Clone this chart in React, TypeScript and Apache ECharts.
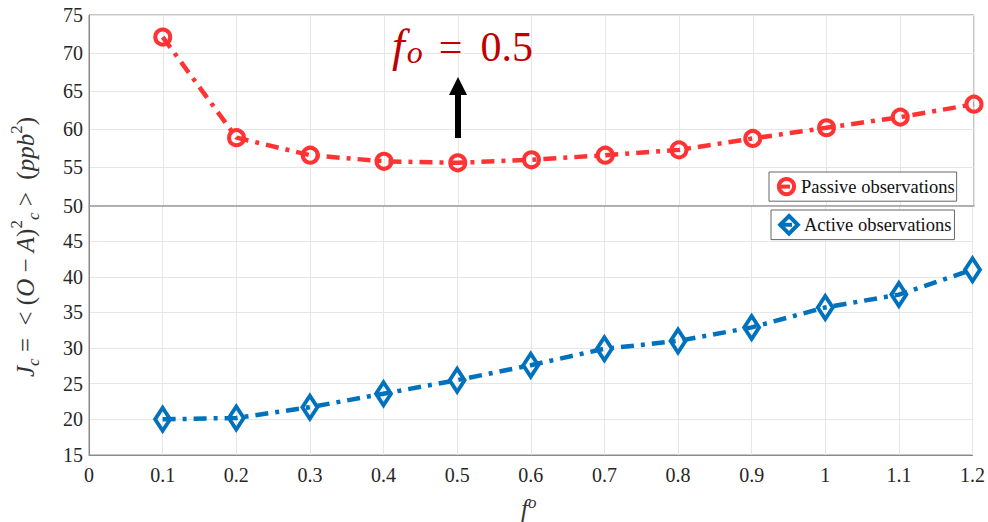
import React, { useEffect, useRef } from "react";
import * as echarts from "echarts";

const fValues = [0.1, 0.2, 0.3, 0.4, 0.5, 0.6, 0.7, 0.8, 0.9, 1.0, 1.1, 1.2];
const passiveJc = [72.1, 58.9, 56.6, 55.8, 55.6, 56.0, 56.6, 57.3, 58.8, 60.2, 61.6, 63.3];
const activeJc = [20.0, 20.2, 21.7, 23.6, 25.5, 27.6, 29.9, 31.0, 32.9, 35.7, 37.5, 41.0];
const topTicks = { min: 50, max: 75, interval: 5 };
const bottomTicks = { min: 15, max: 50, interval: 5 };
const xTicks = { min: 0, max: 1.2, interval: 0.1 };

const FONT = "'Liberation Serif', 'Times New Roman', serif";
const RED = "#ff3333";
const BLUE = "#0072bd";
const TXT = "#262626";

export default function App() {
  const ref = useRef<HTMLDivElement>(null);
  useEffect(() => {
    if (!ref.current) return;
    const chart = echarts.init(ref.current, undefined, { renderer: "svg" });
    const fmtX = (v: number) => String(Math.round(v * 10) / 10);
    const dash: any = [13, 7, 4, 7];
    const gridBase = {
      left: 89,
      width: 885,
      show: true,
      borderColor: "#8a8a8a",
      borderWidth: 1,
      backgroundColor: "#fff",
    };
    const splitLine = { show: true, lineStyle: { color: "#e6e6e6", width: 1 } };
    const legendCommon = {
      orient: "vertical",
      backgroundColor: "#fff",
      borderColor: "#666",
      borderWidth: 1,
      borderRadius: 0,
      itemGap: 4,
      textStyle: { fontFamily: FONT, fontSize: 18.5, color: "#111" },
    };
    const option: any = {
      animation: false,
      backgroundColor: "#fff",
      grid: [
        { ...gridBase, top: 15, height: 190.5 },
        { ...gridBase, top: 205.5, height: 249.5 },
      ],
      xAxis: [
        {
          type: "value",
          gridIndex: 0,
          ...xTicks,
          axisLabel: { show: false },
          axisTick: { show: false },
          axisLine: { show: true, lineStyle: { color: "#9a9a9a", width: 1.5 } },
          splitLine,
        },
        {
          type: "value",
          gridIndex: 1,
          ...xTicks,
          axisLabel: {
            show: true,
            formatter: fmtX,
            fontFamily: FONT,
            fontSize: 20,
            color: TXT,
            margin: 10,
          },
          axisTick: { show: false },
          axisLine: { show: true, lineStyle: { color: "#8a8a8a" } },
          splitLine,
        },
      ],
      yAxis: [
        {
          type: "value",
          gridIndex: 0,
          ...topTicks,
          axisLabel: { fontFamily: FONT, fontSize: 20, color: TXT, margin: 6 },
          axisTick: { show: false },
          axisLine: { show: true, lineStyle: { color: "#8a8a8a" } },
          splitLine,
        },
        {
          type: "value",
          gridIndex: 1,
          ...bottomTicks,
          axisLabel: {
            fontFamily: FONT,
            fontSize: 20,
            color: TXT,
            margin: 6,
            showMaxLabel: false,
          },
          axisTick: { show: false },
          axisLine: { show: true, lineStyle: { color: "#8a8a8a" } },
          splitLine,
        },
      ],
      legend: [
        {
          ...legendCommon,
          data: ["Passive observations"],
          left: 769,
          top: 172,
          padding: [5, 2, 5, 6],
          itemWidth: 19,
          itemHeight: 19,
          itemStyle: { borderWidth: 4 },
          lineStyle: { width: 4 },
        },
        {
          ...legendCommon,
          data: ["Active observations"],
          left: 771,
          top: 210,
          padding: [4, 3, 4, 6],
          itemWidth: 20,
          itemHeight: 22,
          itemStyle: { borderWidth: 4 },
          lineStyle: { width: 4 },
        },
      ],
      series: [
        {
          name: "Passive observations",
          type: "line",
          xAxisIndex: 0,
          yAxisIndex: 0,
          data: fValues.map((x, i) => [x, passiveJc[i]]),
          symbol: "circle",
          symbolSize: 15,
          lineStyle: { color: RED, width: 4.5, type: dash },
          itemStyle: { color: "rgba(255,255,255,0)", borderColor: RED, borderWidth: 4 },
          z: 3,
        },
        {
          name: "Active observations",
          type: "line",
          xAxisIndex: 1,
          yAxisIndex: 1,
          data: fValues.map((x, i) => [x, activeJc[i]]),
          symbol: "diamond",
          symbolSize: [15, 23],
          lineStyle: { color: BLUE, width: 4.5, type: dash },
          itemStyle: { color: "rgba(255,255,255,0)", borderColor: BLUE, borderWidth: 4 },
          z: 3,
        },
      ],
      graphic: [
        {
          type: "text",
          left: 392,
          top: 18,
          z: 100,
          style: {
            text: "{f|f}{o|o}{e|=}{r|0.5}",
            fill: "#c00000",
            rich: {
              f: { fontFamily: FONT, fontStyle: "italic", fontSize: 46, fill: "#c00000", lineHeight: 52, verticalAlign: "bottom", padding: [0, 2, 0, 0] },
              o: { fontFamily: FONT, fontStyle: "italic", fontSize: 32, fill: "#c00000", lineHeight: 52, padding: [18, 0, 0, 0], verticalAlign: "bottom" },
              e: { fontFamily: FONT, fontSize: 42, fill: "#c00000", lineHeight: 52, verticalAlign: "bottom", padding: [0, 18, 0, 16] },
              r: { fontFamily: FONT, fontSize: 42, fill: "#c00000", lineHeight: 52, verticalAlign: "bottom" },
            },
          },
        },
        {
          type: "rect",
          z: 100,
          shape: { x: 455, y: 92, width: 6, height: 46 },
          style: { fill: "#000" },
        },
        {
          type: "polygon",
          z: 100,
          shape: { points: [[449, 95], [467, 95], [458, 77]] },
          style: { fill: "#000" },
        },
        {
          type: "text",
          x: 25,
          y: 247,
          z: 100,
          rotation: Math.PI / 2,
          style: {
            text: "{i|J}{sub|c}{n| =  < (}{i|O}{n| − }{i|A}{n|)}{sup|2}{sub|c}{n| >  (}{i|ppb}{sup|2}{n|)}",
            align: "center",
            verticalAlign: "middle",
            fill: "#333",
            rich: {
              i: { fontFamily: FONT, fontStyle: "italic", fontSize: 25, fill: "#333", lineHeight: 34 },
              n: { fontFamily: FONT, fontSize: 25, fill: "#333", lineHeight: 34 },
              sub: { fontFamily: FONT, fontStyle: "italic", fontSize: 17, fill: "#333", lineHeight: 34, verticalAlign: "bottom" },
              sup: { fontFamily: FONT, fontSize: 17, fill: "#333", lineHeight: 34, verticalAlign: "top" },
            },
          },
        },
        {
          type: "text",
          left: 521,
          top: 494,
          z: 100,
          style: {
            text: "{i|f}{sup|o}",
            fill: "#333",
            rich: {
              i: { fontFamily: FONT, fontStyle: "italic", fontSize: 25, fill: "#333", lineHeight: 28 },
              sup: { fontFamily: FONT, fontStyle: "italic", fontSize: 17, fill: "#333", lineHeight: 28, verticalAlign: "top" },
            },
          },
        },
      ],
    };
    chart.setOption(option);
    return () => chart.dispose();
  }, []);
  return (
    <div
      ref={ref}
      style={{ position: "absolute", left: 0, top: 0, width: 988, height: 522 }}
    />
  );
}
